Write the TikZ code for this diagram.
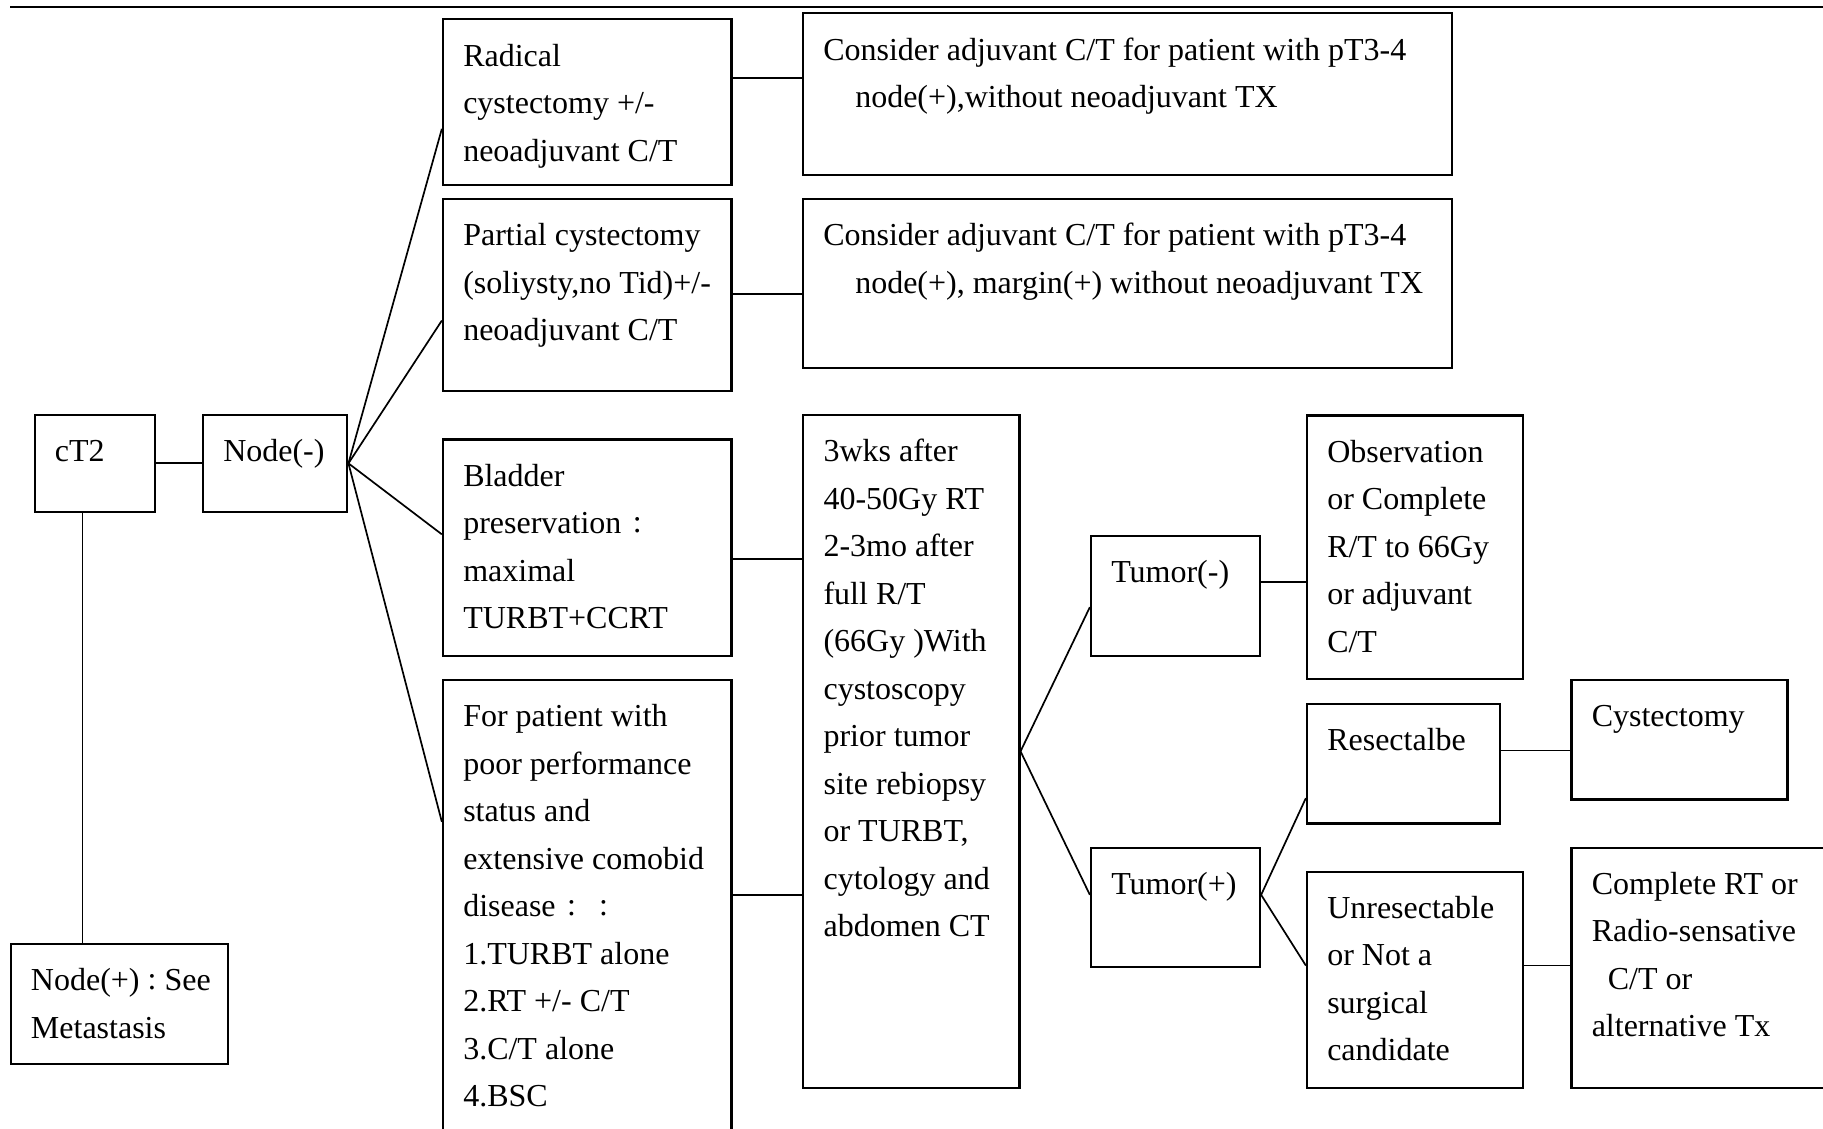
\documentclass[tikz,border=0pt]{standalone}
\usepackage{fontspec}
\setmainfont{Liberation Serif}
\usetikzlibrary{calc,fit}

% full-width colon cell
\newcommand\fwcolon[1][16bp]{\makebox[#1][c]{\raisebox{0.6bp}{:}}}
% text block set inside a box, first baseline at a fixed depth
\newcommand\boxtext[2]{%
  \node[txt] (#1-t) at ($(#1.north west)+(21,23.5)$) {\rule{0pt}{12bp}#2};}

\begin{document}
\begin{tikzpicture}[x=0.5bp,y=-0.5bp,
  box/.style={draw, line width=1.15bp, inner sep=0pt},
  txt/.style={anchor=north west, inner sep=0pt, align=left,
              font=\fontsize{16bp}{23.75bp}\selectfont},
  link/.style={line width=0.85bp}]

\fill[white] (0,0) rectangle (1823,1129);
\useasboundingbox (0,0) rectangle (1823,1129);
\clip (0,0) rectangle (1823,1129);

% header rule
\draw[line width=1.1bp] (10,7.3) -- (1823,7.3);

% boxes
\node[box, fit={(34.7,415) (155,511.7)}]     (ct2)     {};
\node[box, fit={(203,415) (347.3,511.7)}]    (nodeneg) {};
\node[box, fit={(10.7,944) (228,1064)}]      (nodepos) {};
\node[box, fit={(443,19.3) (731.5,185)}]     (radical) {};
\node[box, fit={(443,199) (731.5,391)}]      (partial) {};
\node[box, fit={(443,439.5) (731.5,655.7)}]  (bladder) {};
\node[box, fit={(443,680) (731.5,1145)}]     (patient) {};
\node[box, fit={(803,13.3) (1452,175)}]      (cons1)   {};
\node[box, fit={(803,199) (1452,367.7)}]     (cons2)   {};
\node[box, fit={(803.3,415) (1019.4,1087.7)}] (wks)    {};
\node[box, fit={(1091,535.7) (1260,655.7)}]  (tneg)    {};
\node[box, fit={(1091,847.7) (1260,967.3)}]  (tpos)    {};
\node[box, fit={(1307,415.5) (1523,679.3)}]  (obs)     {};
\node[box, fit={(1307,704) (1500,823.5)}]    (resect)  {};
\node[box, fit={(1307,871.7) (1523,1087.7)}] (unres)   {};
\node[box, fit={(1571.5,680) (1787.5,799.5)}] (cyst)   {};
\node[box, fit={(1571.5,847.7) (1840,1087.7)}] (compl) {};

% texts
\boxtext{ct2}{cT2}
\boxtext{nodeneg}{Node(-)}
\boxtext{nodepos}{Node(+)\fwcolon[12.5bp]See\\Metastasis}
\boxtext{radical}{Radical\\cystectomy +/-\\neoadjuvant C/T}
\boxtext{partial}{Partial cystectomy\\(soliysty,no Tid)+/-\\neoadjuvant C/T}
\boxtext{bladder}{Bladder\\preservation\fwcolon\\maximal\\TURBT+CCRT}
\boxtext{patient}{For patient with\\poor performance\\status and\\extensive comobid\\disease\fwcolon\fwcolon\\1.TURBT alone\\2.RT +/- C/T\\3.C/T alone\\4.BSC}
\boxtext{cons1}{Consider adjuvant C/T for patient with pT3-4\\\hspace*{16bp}node(+),without neoadjuvant TX}
\boxtext{cons2}{Consider adjuvant C/T for patient with pT3-4\\\hspace*{16bp}node(+), margin(+) without neoadjuvant TX}
\boxtext{wks}{3wks after\\40-50Gy RT\\2-3mo after\\full R/T\\(66Gy )With\\cystoscopy\\prior tumor\\site rebiopsy\\or TURBT,\\cytology and\\abdomen CT}
\boxtext{tneg}{Tumor(-)}
\boxtext{tpos}{Tumor(+)}
\boxtext{obs}{Observation\\or Complete\\R/T to 66Gy\\or adjuvant\\C/T}
\boxtext{resect}{Resectalbe}
\boxtext{unres}{Unresectable\\or Not a\\surgical\\candidate}
\boxtext{cyst}{Cystectomy}
\boxtext{compl}{Complete RT or\\Radio-sensative\\\hspace*{8bp}C/T or\\alternative Tx}

% connectors
\draw[link] (ct2.east) -- (nodeneg.west);
\coordinate (ct2drop) at ($(ct2.south west)!0.4!(ct2.south east)$);
\draw[link] (ct2drop) -- (ct2drop |- nodepos.north);

\draw[link] (nodeneg.east) -- ($(radical.north west)+(0,110.7)$);
\draw[link] (nodeneg.east) -- ($(partial.north west)+(0,122.7)$);
\draw[link] (nodeneg.east) -- ($(bladder.north west)+(0,96)$);
\draw[link] (nodeneg.east) -- ($(patient.north west)+(0,143)$);

\coordinate (r1) at ($(radical.north east)+(0,60)$);
\draw[link] (r1) -- (r1 -| cons1.west);
\coordinate (p1) at ($(partial.north east)+(0,96.3)$);
\draw[link] (p1) -- (p1 -| cons2.west);
\coordinate (b1) at ($(bladder.north east)+(0,120.5)$);
\draw[link] (b1) -- (b1 -| wks.west);
\coordinate (f1) at ($(patient.north east)+(0,216)$);
\draw[link] (f1) -- (f1 -| wks.west);

\draw[link] (wks.east) -- ($(tneg.north west)+(0,72.6)$);
\draw[link] (wks.east) -- ($(tpos.north west)+(0,48.3)$);

\coordinate (n1) at ($(tneg.north east)+(0,47.6)$);
\draw[link] (n1) -- (n1 -| obs.west);
\coordinate (t1) at ($(tpos.north east)+(0,48.3)$);
\draw[link] (t1) -- ($(resect.north west)+(0,95.3)$);
\draw[link] (t1) -- ($(unres.north west)+(0,95)$);

\coordinate (s1) at ($(resect.north east)+(0,47.7)$);
\draw[link] (s1) -- (s1 -| cyst.west);
\coordinate (u1) at ($(unres.north east)+(0,95)$);
\draw[link] (u1) -- (u1 -| compl.west);

\end{tikzpicture}
\end{document}
